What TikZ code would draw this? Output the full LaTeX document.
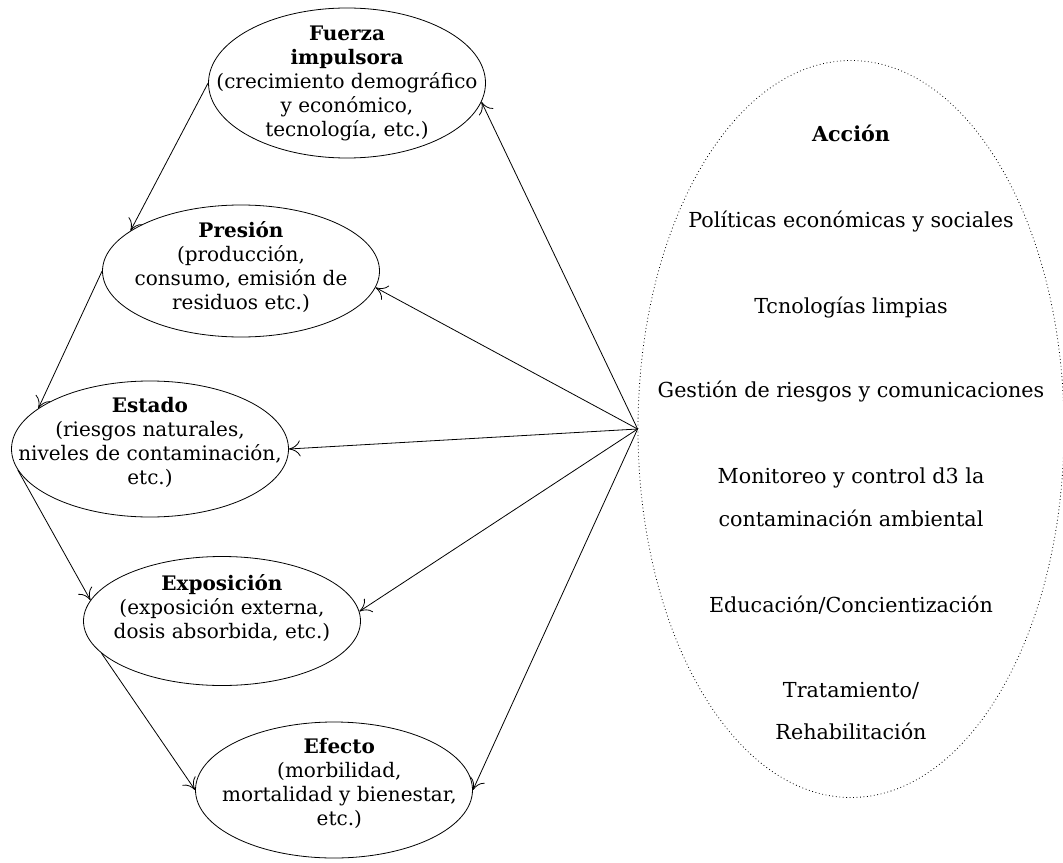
\documentclass[tikz,border=0pt]{standalone}
\usepackage{fontspec}
\setmainfont{DejaVu Serif}
\usetikzlibrary{shapes.geometric, positioning, arrows.meta}

\begin{document}
\begin{tikzpicture}[x=0.75pt, y=-0.75pt, font=\fontsize{15}{18}\selectfont,
  >={To[length=8.5pt,width=12pt]}, line width=0.6pt,
  caja/.style={draw, ellipse, inner sep=0pt, minimum width=207.75pt},
  texto/.style={align=center, inner sep=0pt},
  accion/.style={anchor=base, inner sep=0pt, font=\fontsize{15.5}{18}\selectfont}]
\useasboundingbox (0,0) rectangle (1063,863);
% elipses de la cadena
\node[caja, minimum height=112.5pt] (fuerza) at (347,83) {};
\node[caja, minimum height=99pt] (presion) at (241,271) {};
\node[caja, minimum height=102pt] (estado) at (150,449) {};
\node[caja, minimum height=96.75pt] (exposicion) at (222,621) {};
\node[caja, minimum height=102pt] (efecto) at (334,790) {};
\node[texto] (fuerzatxt) at (fuerza) {\textbf{Fuerza}\\ \textbf{impulsora}\\ (crecimiento demográfico\\ y económico,\\ tecnología, etc.)};
\node[texto, yshift=3pt] (presiontxt) at (presion) {\textbf{Presión}\\ (producción,\\ consumo, emisión de\\ residuos etc.)};
\node[texto, yshift=5pt] (estadotxt) at (estado) {\textbf{Estado}\\ (riesgos naturales,\\ niveles de contaminación,\\ etc.)};
\node[texto, yshift=10pt] (exposiciontxt) at (exposicion) {\textbf{Exposición}\\ (exposición externa,\\ dosis absorbida, etc.)};
\node[texto, yshift=5pt, xshift=4pt] (efectotxt) at (efecto) {\textbf{Efecto}\\ (morbilidad,\\ mortalidad y bienestar,\\ etc.)};
% accion
\node[draw, dotted, ellipse, inner sep=0pt, minimum width=319.5pt, minimum height=552.75pt] (accion) at (851,429) {};
\node[accion] (titulo) at (851,142) {\textbf{Acción}};
\node[accion] (politicas) at (851,227) {Políticas económicas y sociales};
\node[accion] (tecnologias) at (851,313) {Tcnologías limpias};
\node[accion] (gestion) at (851,397) {Gestión de riesgos y comunicaciones};
\node[accion] (monitoreo) at (851,483) {Monitoreo y control d3 la};
\node[accion] (contaminacion) at (851,526) {contaminación ambiental};
\node[accion] (educacion) at (851,612) {Educación/Concientización};
\node[accion] (tratamiento) at (851,697) {Tratamiento/};
\node[accion] (rehabilitacion) at (851,739) {Rehabilitación};
% flechas
\draw[->] (fuerza.west) -- (presion.160);
\draw[->] (presion.west) -- (estado.160);
\draw[->] (estado.189) -- (exposicion.171);
\draw[->] (exposicion.195) -- (efecto.west);
\draw[->] (accion.west) -- (fuerza.-8);
\draw[->] (accion.west) -- (presion.-7);
\draw[->] (accion.west) -- (estado.east);
\draw[->] (accion.west) -- (exposicion.4);
\draw[->] (accion.west) -- (efecto.east);
\end{tikzpicture}
\end{document}
